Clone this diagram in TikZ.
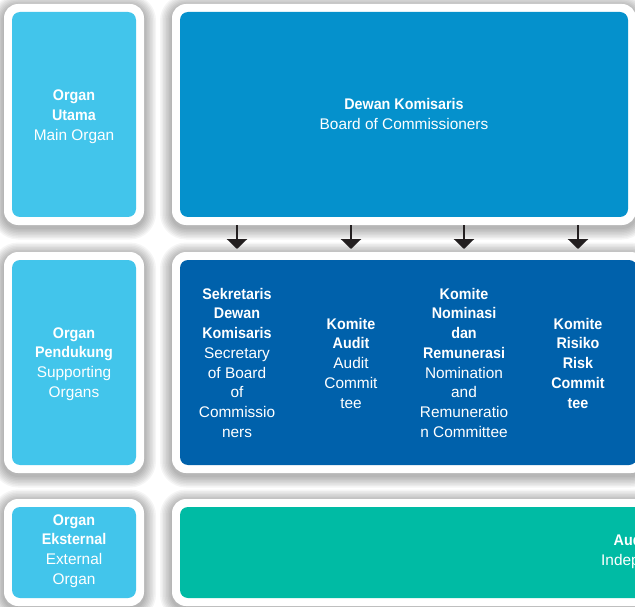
\documentclass[tikz,border=0pt]{standalone}
\usepackage{fontspec}
\setmainfont{Liberation Sans}[BoldFeatures={FakeStretch=0.93}]
\usetikzlibrary{arrows.meta}
\definecolor{lightb}{HTML}{42C5EB}
\definecolor{midb}{HTML}{0591CC}
\definecolor{darkb}{HTML}{0061AB}
\definecolor{tealc}{HTML}{00BBA4}
\definecolor{arrowc}{HTML}{231F20}
\tikzset{
  lbl/.style={text=white, font=\fontsize{15.4}{19.8}\selectfont, inner sep=0pt},
  cardo/.style={rectangle, rounded corners=14pt, fill=white, inner sep=0pt},
  panel/.style={rectangle, rounded corners=8pt, inner sep=0pt},
  arr/.style={draw=arrowc, line width=2.4pt, -{Triangle[width=20pt,length=10pt]}}
}
\newcommand\mycard[6]{%
  \foreach \k in {1,...,8}{%
    \pgfmathsetmacro\rr{14+\k*1.5}%
    \fill[black, opacity=0.04, rounded corners=\rr pt]
      ({#2-\k*1.5},{#3-\k*1.5+2.5}) rectangle ({#4+\k*1.5},{#5+\k*1.5+2.5});
  }%
  \pgfmathsetmacro\ww{#4-#2}\pgfmathsetmacro\hh{#5-#3}%
  \pgfmathsetmacro\iw{#4-#2-16}\pgfmathsetmacro\ih{#5-#3-16}%
  \node[cardo, minimum width=\ww pt, minimum height=\hh pt] (#1o) at ({(#2+#4)/2},{(#3+#5)/2}) {};
  \node[panel, fill=#6, minimum width=\iw pt, minimum height=\ih pt] (#1) at ({(#2+#4)/2},{(#3+#5)/2}) {};
}
\newcommand\stack[4]{%
  \foreach \tx [count=\i from 0] in {#4}{%
    \node[lbl, anchor=base] (#1\i) at (#2,{#3+\i*19.75}) {\tx};
  }%
}
\begin{document}
\begin{tikzpicture}[x=1pt,y=-1pt]
\useasboundingbox (0,0) rectangle (635,607);
\clip (0,0) rectangle (635,607);
\fill[white] (0,0) rectangle (635,607);
% cards
\mycard{L1}{4}{4}{144}{225}{lightb}
\mycard{L2}{4}{252}{144}{473}{lightb}
\mycard{L3}{4}{499}{144}{606}{lightb}
\mycard{R1}{172}{4}{636}{225}{midb}
\mycard{R2}{172}{252}{645}{473}{darkb}
\mycard{R3}{172}{499}{700}{606}{tealc}
% arrows
\foreach \x [count=\j] in {237,351,464,578}{
  \coordinate (as\j) at (\x,225);
  \coordinate (ae\j) at (\x,249);
  \draw[arr] (as\j) -- (ae\j);
}
% texts
\stack{tL1}{74}{101}{\textbf{Organ},\textbf{Utama},Main Organ}
\stack{tR1}{404}{110}{\textbf{Dewan Komisaris},Board of Commissioners}
\stack{tL2}{74}{338}{\textbf{Organ},\textbf{Pendukung},Supporting,Organs}
\stack{tCa}{237}{299}{\textbf{Sekretaris},\textbf{Dewan},\textbf{Komisaris},Secretary,of Board,of,Commissio,ners}
\stack{tCb}{351}{329}{\textbf{Komite},\textbf{Audit},Audit,Commit,tee}
\stack{tCc}{464}{299}{\textbf{Komite},\textbf{Nominasi},\textbf{dan},\textbf{Remunerasi},Nomination,and,Remuneratio,n Committee}
\stack{tCd}{578}{329}{\textbf{Komite},\textbf{Risiko},\textbf{Risk},\textbf{Commit},\textbf{tee}}
\stack{tL3}{74}{525}{\textbf{Organ},\textbf{Eksternal},External,Organ}
\node[lbl, anchor=base west] (tR3a) at (613.5,545) {\textbf{Auditor}};
\node[lbl, anchor=base west] (tR3b) at (601,565) {Independent};
\end{tikzpicture}
\end{document}
